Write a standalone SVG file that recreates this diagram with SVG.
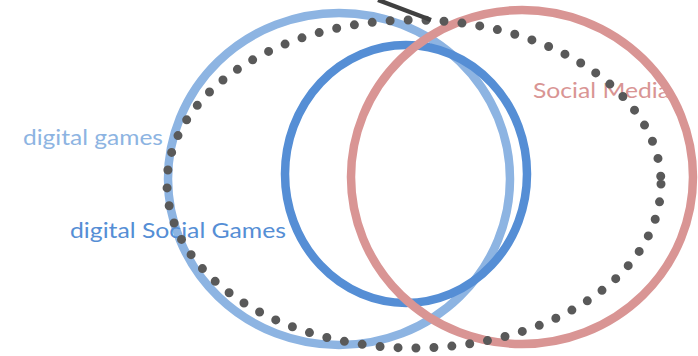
<svg xmlns="http://www.w3.org/2000/svg" width="698" height="356" viewBox="0 0 698 356">
<style>
.ring{fill:none;stroke-width:8.5}
.lbl{font-family:Lato,"Liberation Sans","DejaVu Sans",sans-serif;font-size:21px}
</style>
<rect width="698" height="356" fill="#ffffff"/>
<g id="digital-games">
<ellipse class="ring" cx="339" cy="179" rx="171" ry="166" stroke="#8DB4E2"/>
<text class="lbl" x="23" y="145" fill="#8DB4E2" textLength="140" lengthAdjust="spacingAndGlyphs">digital games</text>
</g>
<g id="digital-social-games">
<ellipse class="ring" cx="406" cy="174" rx="121" ry="129" stroke="#558ED5"/>
<text class="lbl" x="70" y="238" fill="#558ED5" textLength="216" lengthAdjust="spacingAndGlyphs">digital Social Games</text>
</g>
<g id="social-media">
<ellipse class="ring" cx="522" cy="177" rx="171" ry="167" stroke="#D99594"/>
<text class="lbl" x="533" y="98" fill="#D99594" textLength="137" lengthAdjust="spacingAndGlyphs">Social Media</text>
</g>
<g id="dotted-set">
<ellipse cx="414" cy="184" rx="247" ry="164" fill="none" stroke="#595959" stroke-width="9" stroke-linecap="round" stroke-dasharray="0 18"/>
</g>
<g id="connectors">
<line x1="378" y1="0" x2="431" y2="20" stroke="#404040" stroke-width="4.5"/>
</g>
</svg>
